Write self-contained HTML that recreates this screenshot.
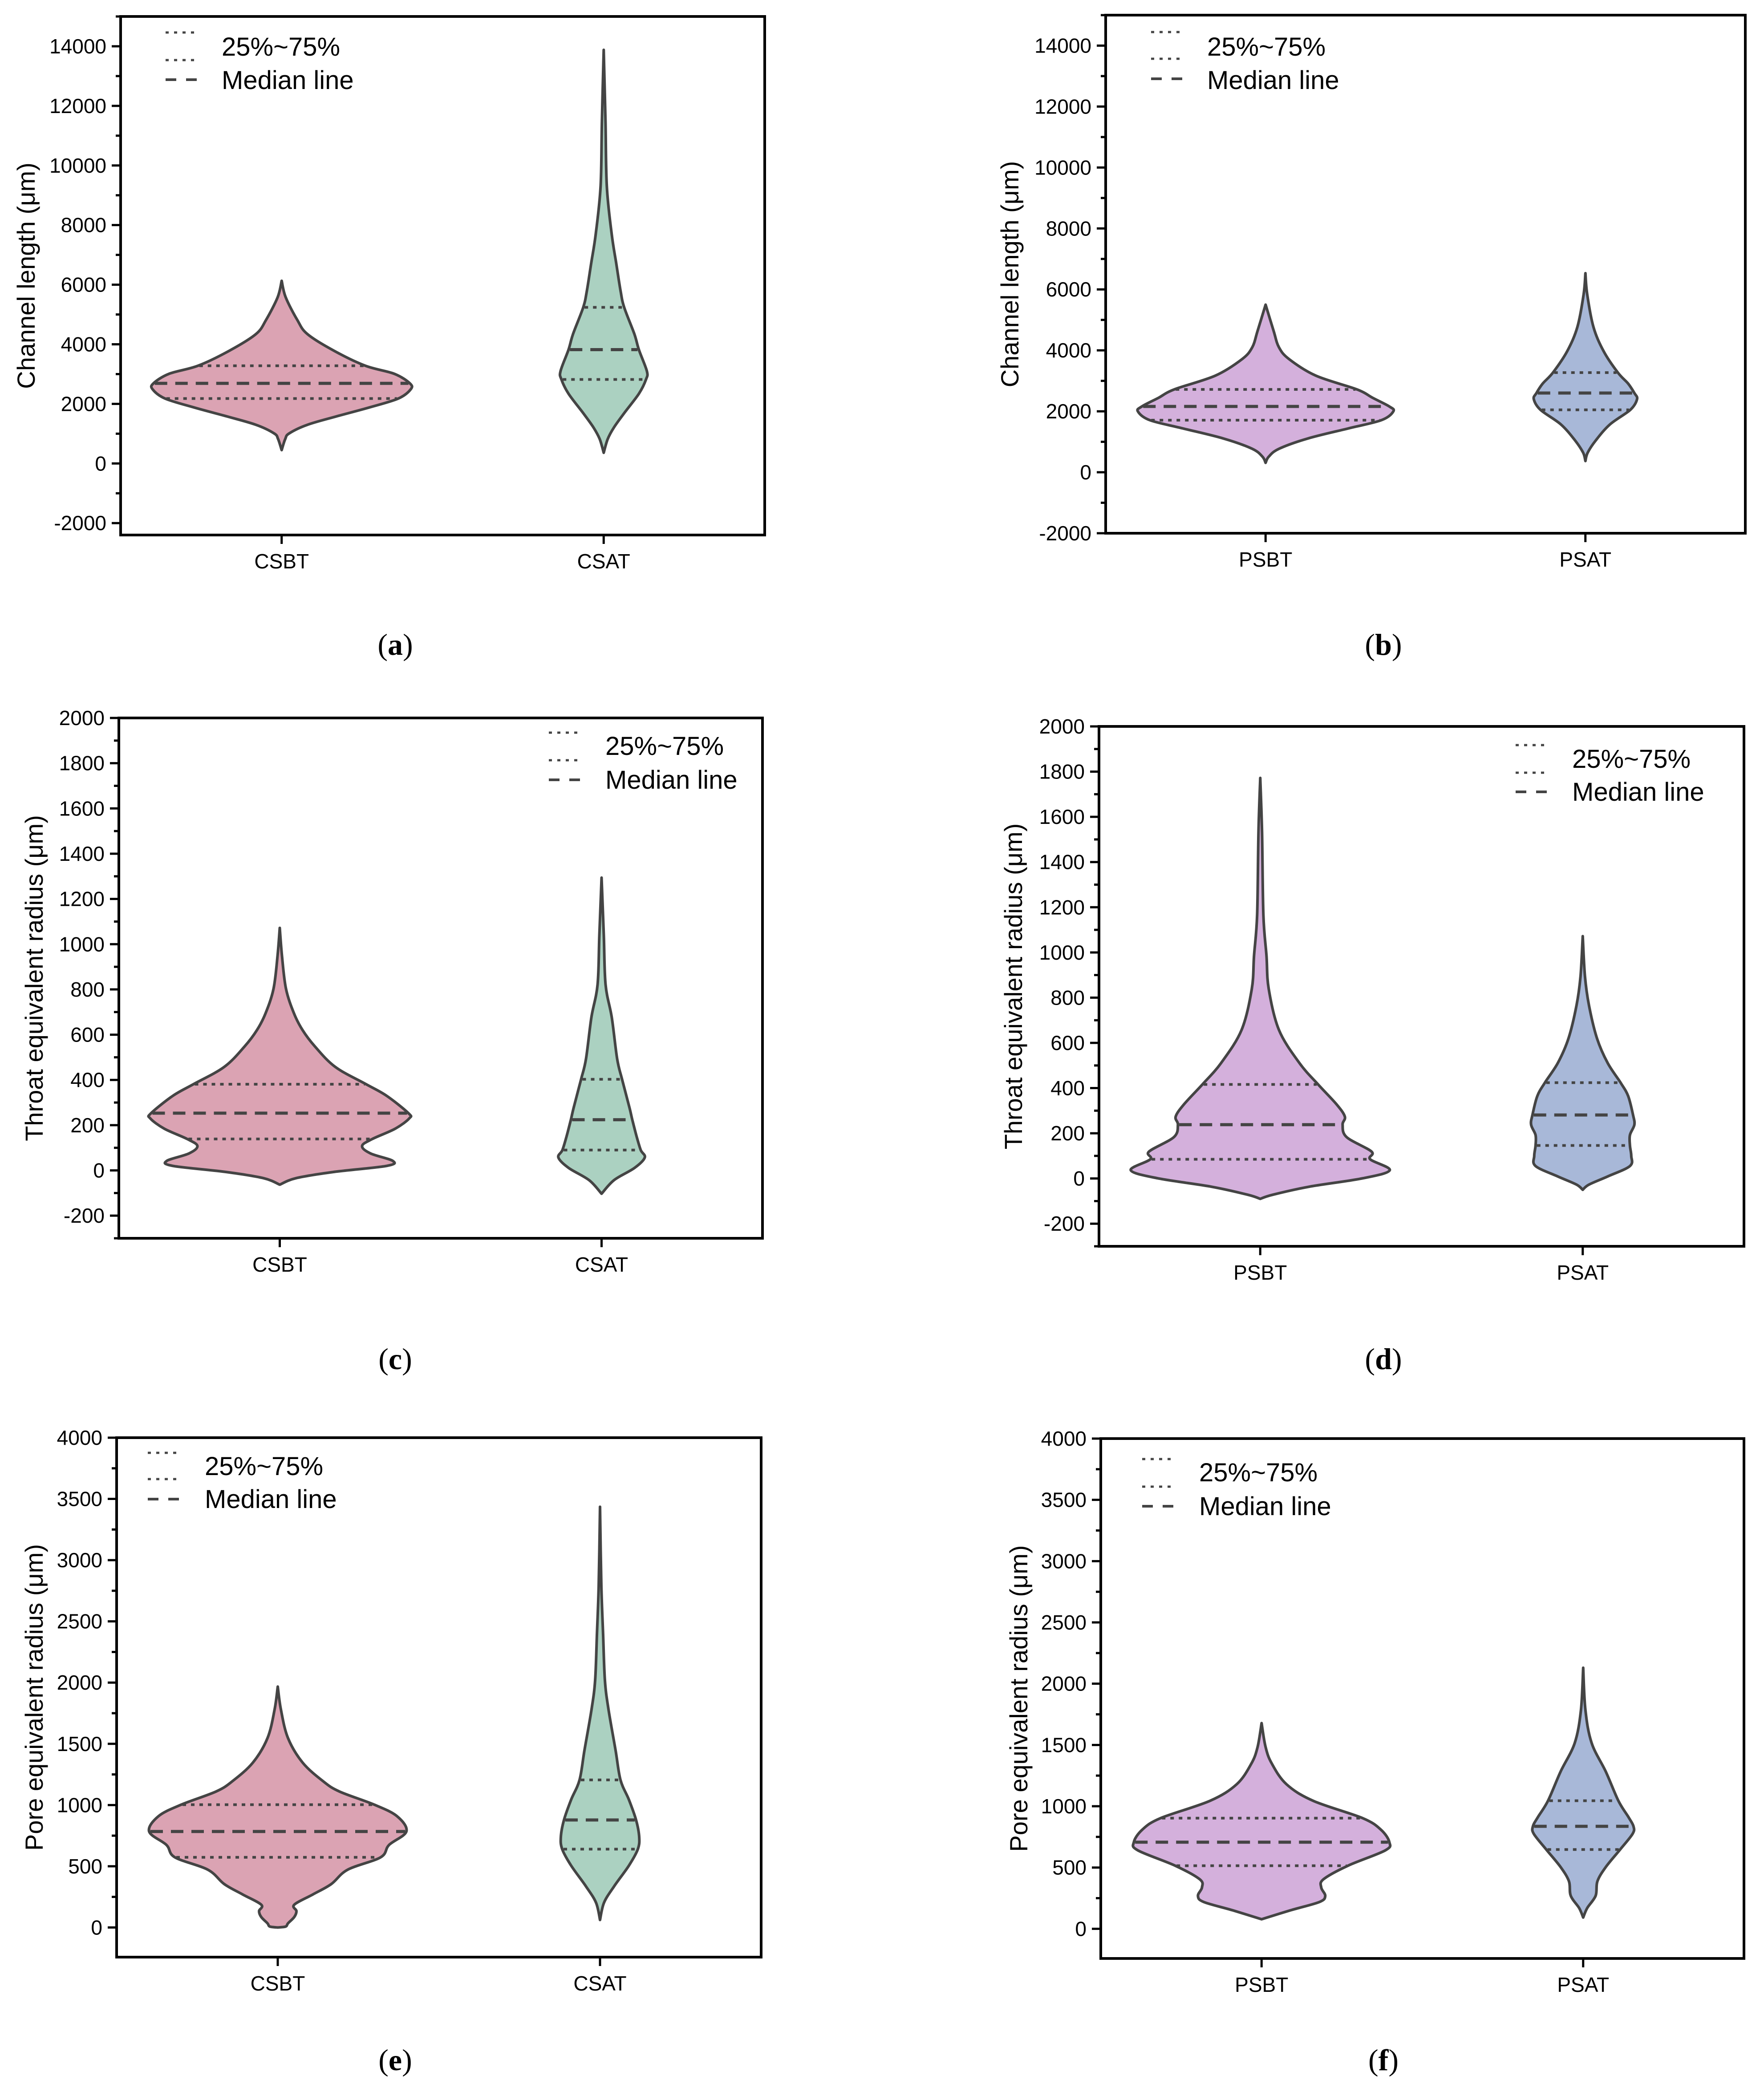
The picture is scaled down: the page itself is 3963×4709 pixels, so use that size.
<!DOCTYPE html>
<html><head><meta charset="utf-8">
<style>
html,body{margin:0;padding:0;background:#fff;}
svg{display:block;}
text{font-family:"Liberation Sans",Arial,sans-serif;fill:#000;}
</style></head>
<body>
<svg id="fig" width="3963" height="4709" viewBox="0 0 3963 4709" xmlns="http://www.w3.org/2000/svg"></svg>
<script>
// ---------- DATA ----------
const catsC = ['CSBT','CSAT'];
const catsP = ['PSBT','PSAT'];
const ticksA = [-2000,0,2000,4000,6000,8000,10000,12000,14000];
const ticksC = [-200,0,200,400,600,800,1000,1200,1400,1600,1800,2000];
const ticksE = [0,500,1000,1500,2000,2500,3000,3500,4000];

// (a) Channel length
const aCSBTvals = [6130,5580,4820,4340,3780,3280,3010,2690,2490,2180,1880,1580,1300,1010,820,450];
const aCSBTdens = [0,9,35,58,118,188,253,288,290,262,197,123,58,17,8,0];
const aCSBTquart = [2180,2690,3280];
const aCSATvals = [13880,11490,9300,7690,6730,5780,5240,4340,3820,3100,2820,2340,1690,1210,820,360];
const aCSATdens = [0,4,7,18,28,38,46,69,79,97,95,79,46,23,9,0];
const aCSATquart = [2820,3820,5240];
// (b)
const bPSBTvals = [5500,4640,4100,3710,3170,2720,2440,2160,2000,1710,1440,1110,770,510,310];
const bPSBTdens = [0,18,30,53,113,205,241,278,287,260,186,95,30,7,0];
const bPSBTquart = [1710,2160,2720];
const bPSATvals = [6530,5840,4770,3970,3270,2910,2600,2400,2050,1570,1040,640,370];
const bPSATdens = [0,4,18,41,73,96,110,116,101,55,23,5,0];
const bPSATquart = [2050,2600,3270];
// (c) Throat equivalent radius
const cCSBTvals = [1072,948,803,694,621,548,457,381,330,253,230,184,139,108,75,42,20,-7,-34,-63];
const cCSBTdens = [0,5,14,32,51,79,125,194,240,289,291,259,208,185,204,254,240,120,37,0];
const cCSBTquart = [139,253,381];
const cCSATvals = [1294,1039,821,675,493,403,275,224,148,90,57,11,-43,-103];
const cCSATdens = [0,5,9,23,35,46,63,69,79,88,97,74,28,0];
const cCSATquart = [90,224,403];
// (d)
const dPSBTvals = [1772,1532,1167,985,839,657,511,416,329,274,238,183,119,85,37,1,-36,-72,-90];
const dPSBTdens = [0,4,7,14,19,42,88,130,171,190,185,194,250,247,291,231,111,28,0];
const dPSBTquart = [85,238,416];
const dPSATvals = [1072,894,766,620,511,424,365,281,238,192,146,100,55,9,-27,-50];
const dPSATdens = [0,5,14,32,56,85,102,113,116,106,106,109,106,56,14,0];
const dPSATquart = [146,281,424];
// (e) Pore equivalent radius
const eCSBTvals = [1967,1782,1547,1346,1194,1110,1003,909,784,674,573,472,354,270,186,134,85,34,8,0];
const eCSBTdens = [0,7,23,56,102,139,217,268,289,250,231,157,120,79,37,42,37,23,18,0];
const eCSBTquart = [573,784,1003];
const eCSATvals = [3436,2790,2387,2018,1782,1446,1205,1043,878,741,640,506,338,203,62];
const eCSATdens = [0,3,7,11,19,35,46,65,81,88,85,65,32,9,0];
const eCSATquart = [640,878,1205];
// (f)
const fPSBTvals = [1678,1483,1348,1179,1044,903,809,707,640,515,404,337,269,219,151,78];
const fPSBTdens = [0,9,23,56,116,227,268,287,278,194,139,134,143,130,65,0];
const fPSBTquart = [515,707,903];
const fPSATvals = [2130,1786,1516,1281,1045,910,836,775,647,505,388,270,169,92];
const fPSATdens = [0,5,19,51,79,102,113,111,83,51,32,28,9,0];
const fPSATquart = [647,836,1045];

// ---------- LAYOUT ----------
const NS='http://www.w3.org/2000/svg';
const svg=document.getElementById('fig');
function mk(tag,attrs,parent){const e=document.createElementNS(NS,tag);for(const k in attrs)e.setAttribute(k,attrs[k]);(parent||svg).appendChild(e);return e;}

const panels=[
 {id:'a',L:271,R:1718,T:37,B:1202,ymin:-2400,ymax:15000,ticks:ticksA,minor:1000,cats:catsC,
  title:'Channel length (μm)',tx:58,lab:[888,1449],
  leg:{x1:372,x2:443,y:[73,135,179],tx:498,ty:[105,180]},
  v:[[aCSBTvals,aCSBTdens,aCSBTquart,'#dba3b3'],[aCSATvals,aCSATdens,aCSATquart,'#abd1c1']]},
 {id:'b',L:2484,R:3921,T:34,B:1198,ymin:-2000,ymax:15000,ticks:ticksA,minor:1000,cats:catsP,
  title:'Channel length (μm)',tx:2268,lab:[3108,1449],
  leg:{x1:2586,x2:2658,y:[72,132,177],tx:2712,ty:[105,180]},
  v:[[bPSBTvals,bPSBTdens,bPSBTquart,'#d4b0dc'],[bPSATvals,bPSATdens,bPSATquart,'#a8b8d8']]},
 {id:'c',L:267,R:1713,T:1613,B:2782,ymin:-300,ymax:2000,ticks:ticksC,minor:100,cats:catsC,
  title:'Throat equivalent radius (μm)',tx:76,lab:[888,3054],
  leg:{x1:1233,x2:1307,y:[1646,1708,1752],tx:1360,ty:[1676,1752]},
  v:[[cCSBTvals,cCSBTdens,cCSBTquart,'#dba3b3'],[cCSATvals,cCSATdens,cCSATquart,'#abd1c1']]},
 {id:'d',L:2469,R:3918,T:1632,B:2800,ymin:-300,ymax:2000,ticks:ticksC,minor:100,cats:catsP,
  title:'Throat equivalent radius (μm)',tx:2276,lab:[3108,3054],
  leg:{x1:3405,x2:3479,y:[1674,1736,1779],tx:3532,ty:[1705,1779]},
  v:[[dPSBTvals,dPSBTdens,dPSBTquart,'#d4b0dc'],[dPSATvals,dPSATdens,dPSATquart,'#a8b8d8']]},
 {id:'e',L:262,R:1710,T:3230,B:4397,ymin:-242,ymax:4000,ticks:ticksE,minor:250,cats:catsC,
  title:'Pore equivalent radius (μm)',tx:76,lab:[888,4629],
  leg:{x1:332,x2:406,y:[3264,3323,3368],tx:460,ty:[3294,3368]},
  v:[[eCSBTvals,eCSBTdens,eCSBTquart,'#dba3b3'],[eCSATvals,eCSATdens,eCSATquart,'#abd1c1']]},
 {id:'f',L:2473,R:3918,T:3232,B:4400,ymin:-242,ymax:4000,ticks:ticksE,minor:250,cats:catsP,
  title:'Pore equivalent radius (μm)',tx:2288,lab:[3108,4629],
  leg:{x1:2566,x2:2640,y:[3278,3340,3384],tx:2694,ty:[3308,3384]},
  v:[[fPSBTvals,fPSBTdens,fPSBTquart,'#d4b0dc'],[fPSATvals,fPSATdens,fPSATquart,'#a8b8d8']]}
];

function crPath(pts){
  let d='M'+pts[0][0].toFixed(1)+','+pts[0][1].toFixed(1);
  for(let i=0;i<pts.length-1;i++){
    const p0=pts[Math.max(0,i-1)],p1=pts[i],p2=pts[i+1],p3=pts[Math.min(pts.length-1,i+2)];
    const c1=[p1[0]+(p2[0]-p0[0])/6,p1[1]+(p2[1]-p0[1])/6];
    const c2=[p2[0]-(p3[0]-p1[0])/6,p2[1]-(p3[1]-p1[1])/6];
    d+=' C'+c1[0].toFixed(1)+','+c1[1].toFixed(1)+' '+c2[0].toFixed(1)+','+c2[1].toFixed(1)+' '+p2[0].toFixed(1)+','+p2[1].toFixed(1);
  }
  return d;
}
function widthAt(vals,dens,q){
  for(let i=0;i<vals.length-1;i++){
    if((vals[i]>=q&&vals[i+1]<=q)){const t=(vals[i]-q)/(vals[i]-vals[i+1]);return dens[i]+(dens[i+1]-dens[i])*t;}
  }
  return 0;
}

panels.forEach(p=>{
  const g=mk('g',{});
  
  
  const yS=v=>p.T+(p.ymax-v)/(p.ymax-p.ymin)*(p.B-p.T);
  const W=p.R-p.L;
  const xS=i=>p.L+W*(0.25+0.5*i);

  // violins
  p.v.forEach((vv,i)=>{
    const [vals,dens,quart,color]=vv;
    const cx=xS(i);
    const right=vals.map((v,k)=>[cx+dens[k],yS(v)]);
    const left=vals.map((v,k)=>[cx-dens[k],yS(v)]).reverse();
    const d=crPath(right)+' L'+crPath(left).slice(1)+' Z';
    const path=mk('path',{d:d,fill:color,stroke:'#444','stroke-width':6,'stroke-linejoin':'round'},g);
    
    
    quart.forEach((q,k)=>{
      const w=widthAt(vals,dens,q)-3;
      const ln=mk('line',{x1:cx-w,x2:cx+w,y1:yS(q),y2:yS(q),stroke:'#444',
        'stroke-width':k===1?7:6,'stroke-dasharray':k===1?'28 18':'8 11'},g);
      
      
    });
  });

  // frame
  const fr=mk('rect',{x:p.L,y:p.T,width:W,height:p.B-p.T,fill:'none',stroke:'#000','stroke-width':6},g);
  
  

  // y ticks
  const t0=p.ticks[0], t1=p.ticks[p.ticks.length-1];
  for(let v=t0-p.minor*2; v<=p.ymax; v+=p.minor){
    if(v<p.ymin) continue;
    const major=p.ticks.indexOf(v)>=0;
    const y=yS(v);
    mk('line',{x1:p.L-(major?20:11),x2:p.L,y1:y,y2:y,stroke:'#000','stroke-width':5},g);
    if(major){
      const t=mk('text',{x:p.L-32,y:y+16,'text-anchor':'end','font-size':46},g);
      t.textContent=v;
      
      
    }
  }
  // x ticks
  p.cats.forEach((c,i)=>{
    const x=xS(i);
    mk('line',{x1:x,x2:x,y1:p.B,y2:p.B+20,stroke:'#000','stroke-width':5},g);
    const t=mk('text',{x:x,y:p.B+75,'text-anchor':'middle','font-size':46},g);
    t.textContent=c;
    
    
  });
  // y title
  const cy=(p.T+p.B)/2;
  const yt=mk('text',{x:p.tx,y:cy,'text-anchor':'middle','font-size':56,transform:'rotate(-90 '+p.tx+' '+cy+')',dy:20},g);
  yt.textContent=p.title;
  
  

  // legend
  const lg=mk('g',{},g);
  
  
  p.leg.y.forEach((y,k)=>{
    mk('line',{x1:p.leg.x1,x2:p.leg.x2,y1:y,y2:y,stroke:'#444','stroke-width':k===2?6:5,
      'stroke-dasharray':k===2?'24 22':'7 12'},lg);
  });
  const l1=mk('text',{x:p.leg.tx,y:p.leg.ty[0]+20,'font-size':58},lg);
  l1.textContent='25%~75%';
  
  
  const l2=mk('text',{x:p.leg.tx,y:p.leg.ty[1]+20,'font-size':58},lg);
  l2.textContent='Median line';
  
  

  // panel label
  const pl=mk('text',{x:p.lab[0],y:p.lab[1]+22,'text-anchor':'middle','font-size':68,style:'font-family:"Liberation Serif",serif'},g);
  const s1=mk('tspan',{},pl); s1.textContent='(';
  const s2=mk('tspan',{'font-weight':'bold'},pl); s2.textContent=p.id;
  const s3=mk('tspan',{},pl); s3.textContent=')';
  
  
});
</script>
</body></html>
